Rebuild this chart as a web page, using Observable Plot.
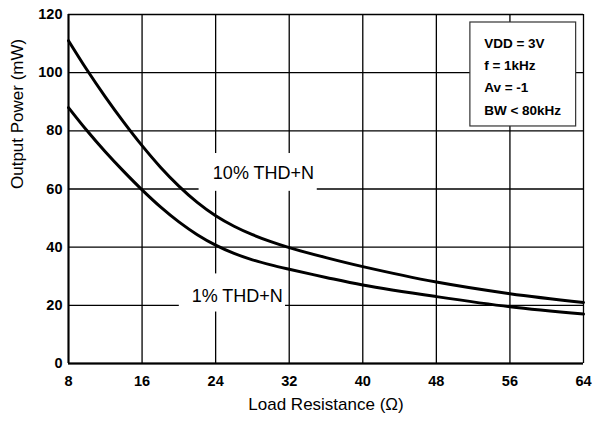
<!DOCTYPE html>
<html><head><meta charset="utf-8">
<script src="https://cdn.jsdelivr.net/npm/d3@7"></script>
<script src="https://cdn.jsdelivr.net/npm/@observablehq/plot@0.6"></script>
<style>
body{margin:0;background:#fff;}
#chart{width:594px;height:421px;}
</style>
</head><body><div id="chart"></div>
<script>
// Load resistance (Ω) sample points
const resistance = [8, 10, 12, 14, 16, 18, 20, 22, 24, 26, 28, 30, 32, 36, 40, 48, 56, 64];
// Output power (mW) for 10% THD+N
const thd10 = [111, 101, 91.7, 83, 74.9, 67.5, 61, 55.4, 50.8, 47.2, 44.3, 41.9, 39.85, 36.4, 33.3, 28, 24, 21];
// Output power (mW) for 1% THD+N
const thd1 = [88, 80.1, 72.8, 66.05, 59.7, 53.85, 48.7, 44.3, 40.7, 37.85, 35.65, 33.9, 32.4, 29.6, 27, 23, 19.5, 17];
const seriesNames = ["10% THD+N", "1% THD+N"];
const xTicks = [8, 16, 24, 32, 40, 48, 56, 64];
const yTicks = [0, 20, 40, 60, 80, 100, 120];
const conditions = ["VDD = 3V", "f = 1kHz", "Av = -1", "BW < 80kHz"];
const xTitle = "Load Resistance (\u03A9)";
const yTitle = "Output Power (mW)";

// annotation anchors (data units)
const labelAnchors = [
  {x: 29.2, y: 65.4, x1: 22.2, x2: 35.05, y1: 59.2, y2: 72.2},
  {x: 26.35, y: 23.1, x1: 20.05, x2: 31.6, y1: 17.7, y2: 30.8}
];
const legendBox = {x1: 51.7, x2: 63.2, y1: 81.5, y2: 117.25};

const rows = [];
resistance.forEach((r, i) => {
  rows.push({series: seriesNames[0], x: r, y: thd10[i]});
  rows.push({series: seriesNames[1], x: r, y: thd1[i]});
});
const labels = seriesNames.map((s, i) => ({text: s, ...labelAnchors[i]}));
const condRows = conditions.map((t, i) => ({text: t, x: legendBox.x1 + 1.5, y: 110 - i * 7.65}));

const font = "'Liberation Sans', Arial, sans-serif";

const chart = Plot.plot({
  width: 594,
  height: 421,
  marginLeft: 68,
  marginRight: 11,
  marginTop: 14,
  marginBottom: 58,
  style: {fontFamily: font, background: "#fff", color: "#000"},
  x: {domain: [8, 64], axis: null},
  y: {domain: [0, 120], axis: null},
  marks: [
    Plot.gridX(xTicks, {stroke: "#000", strokeOpacity: 1, strokeWidth: 1.3}),
    Plot.gridY(yTicks, {stroke: "#000", strokeOpacity: 1, strokeWidth: 1.3}),
    Plot.rect(labels, {x1: "x1", x2: "x2", y1: "y1", y2: "y2", fill: "#fff"}),
    Plot.rect([legendBox], {x1: "x1", x2: "x2", y1: "y1", y2: "y2", fill: "#fff", stroke: "#333", strokeWidth: 1.2}),
    Plot.line(rows, {x: "x", y: "y", z: "series", stroke: "#000", strokeWidth: 3, curve: "catmull-rom"}),
    Plot.text(labels, {x: "x", y: "y", text: "text", fontSize: 18, fill: "#000"}),
    Plot.text(condRows, {x: "x", y: "y", text: "text", textAnchor: "start", fontSize: 13.5, fontWeight: "bold", fill: "#000"}),
    Plot.ruleX([8], {stroke: "#000", strokeWidth: 2}),
    Plot.ruleY([0], {stroke: "#000", strokeWidth: 2}),
    Plot.axisX(xTicks, {tickSize: 0, tickPadding: 12, fontSize: 14.5, fontWeight: "bold", label: null, fill: "#000"}),
    Plot.axisY(yTicks, {tickSize: 0, tickPadding: 6, fontSize: 14.5, fontWeight: "bold", label: null, fill: "#000"}),
    Plot.text([xTitle], {frameAnchor: "bottom", dy: 46, fontSize: 17, fill: "#000"}),
    Plot.text([yTitle], {frameAnchor: "left", rotate: -90, dx: -51, fontSize: 17, fill: "#000"})
  ]
});
document.getElementById("chart").appendChild(chart);
</script>
</body></html>
